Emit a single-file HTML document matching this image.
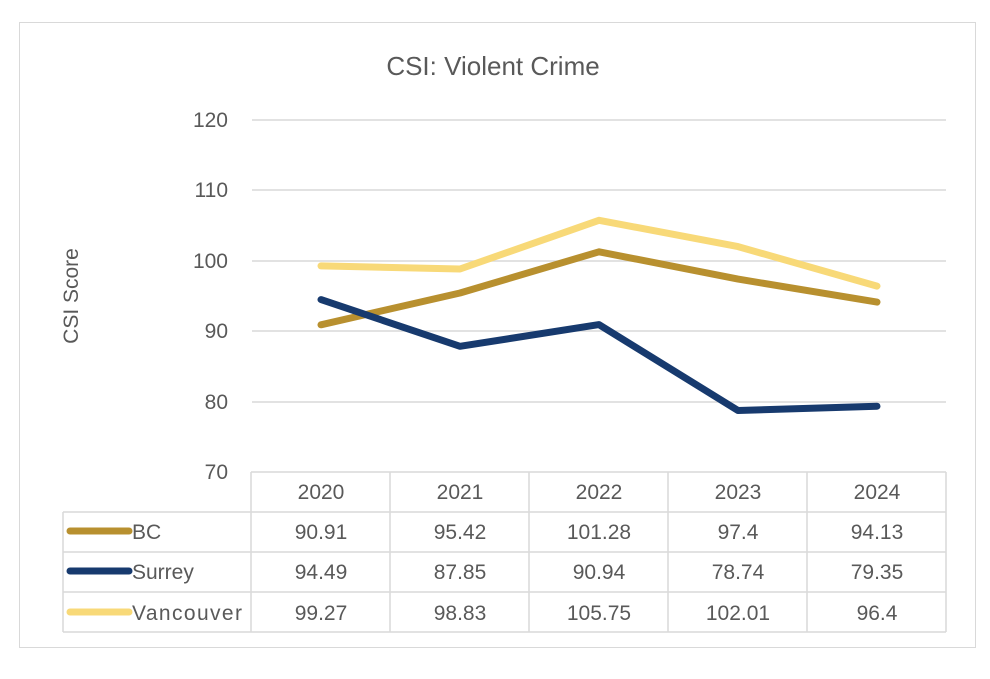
<!DOCTYPE html>
<html><head><style>body{margin:0;background:#fff}</style></head><body>
<svg width="990" height="674" viewBox="0 0 990 674" xmlns="http://www.w3.org/2000/svg" font-family="Liberation Sans, sans-serif" fill="#595959">
<rect x="19.5" y="22.5" width="956" height="625" fill="#fff" stroke="#d9d9d9"/>
<text x="493" y="75" font-size="26" text-anchor="middle">CSI: Violent Crime</text>
<g stroke="#d9d9d9" stroke-width="1.5">
<line x1="252" y1="120" x2="946" y2="120"/><line x1="252" y1="190" x2="946" y2="190"/>
<line x1="252" y1="261" x2="946" y2="261"/><line x1="252" y1="331" x2="946" y2="331"/>
<line x1="252" y1="402" x2="946" y2="402"/>
<line x1="251" y1="472" x2="946" y2="472"/><line x1="63" y1="512" x2="946" y2="512"/>
<line x1="63" y1="552" x2="946" y2="552"/><line x1="63" y1="592" x2="946" y2="592"/>
<line x1="63" y1="632" x2="946" y2="632"/>
<line x1="63" y1="512" x2="63" y2="632"/><line x1="251" y1="472" x2="251" y2="632"/>
<line x1="390" y1="472" x2="390" y2="632"/><line x1="529" y1="472" x2="529" y2="632"/>
<line x1="668" y1="472" x2="668" y2="632"/><line x1="807" y1="472" x2="807" y2="632"/>
<line x1="946" y1="472" x2="946" y2="632"/>
</g>
<g font-size="21" text-anchor="end">
<text x="228" y="127">120</text><text x="228" y="197">110</text><text x="228" y="268">100</text>
<text x="228" y="338">90</text><text x="228" y="409">80</text><text x="228" y="479">70</text>
</g>
<text transform="translate(78,296) rotate(-90)" font-size="21" text-anchor="middle">CSI Score</text>
<g fill="none" stroke-width="7" stroke-linecap="round" stroke-linejoin="round">
<polyline stroke="#F8D978" points="321,265.9 460,269 599,220.3 738,246.6 877,286.1"/>
<polyline stroke="#B8902F" points="321,324.8 460,293 599,251.8 738,279.1 877,302.1"/>
<polyline stroke="#173A6E" points="321,299.6 460,346.3 599,324.6 738,410.5 877,406.2"/>
<line stroke="#B8902F" x1="70" y1="531" x2="129" y2="531"/>
<line stroke="#173A6E" x1="70" y1="571" x2="129" y2="571"/>
<line stroke="#F8D978" x1="70" y1="612" x2="129" y2="612"/>
</g>
<g font-size="21">
<text x="132" y="539">BC</text><text x="132" y="579">Surrey</text><text x="132" y="620" textLength="110">Vancouver</text>
</g>
<g font-size="21" text-anchor="middle">
<text x="321" y="499">2020</text><text x="460" y="499">2021</text><text x="599" y="499">2022</text><text x="738" y="499">2023</text><text x="877" y="499">2024</text>
<text x="321" y="539">90.91</text><text x="460" y="539">95.42</text><text x="599" y="539">101.28</text><text x="738" y="539">97.4</text><text x="877" y="539">94.13</text>
<text x="321" y="579">94.49</text><text x="460" y="579">87.85</text><text x="599" y="579">90.94</text><text x="738" y="579">78.74</text><text x="877" y="579">79.35</text>
<text x="321" y="620">99.27</text><text x="460" y="620">98.83</text><text x="599" y="620">105.75</text><text x="738" y="620">102.01</text><text x="877" y="620">96.4</text>
</g>
</svg>
</body></html>
